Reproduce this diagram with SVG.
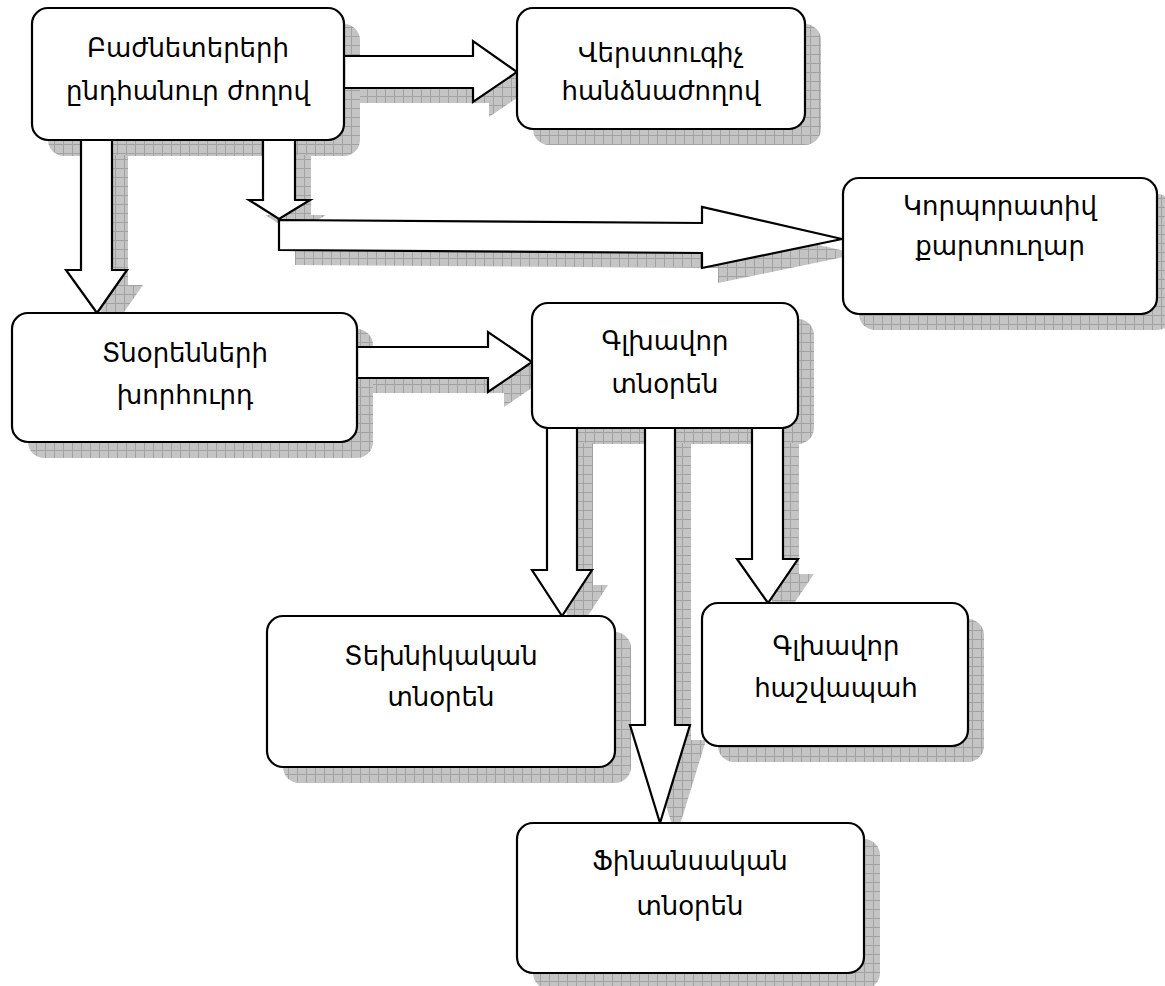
<svg xmlns="http://www.w3.org/2000/svg" width="1165" height="986" viewBox="0 0 1165 986">
<defs>
<pattern id="grid" width="9" height="9" patternUnits="userSpaceOnUse">
<rect width="9" height="9" fill="#c4c4c4"/>
<path d="M0 0.5H9M0.5 0V9" stroke="#a2a2a2" stroke-width="1" fill="none"/>
</pattern>
</defs>
<style>
.sh{fill:url(#grid);stroke:none}
.box{fill:#fff;stroke:#000;stroke-width:2.2}
.arr{fill:#fff;stroke:#000;stroke-width:2.2;stroke-linejoin:miter}
.t{font-family:"DejaVu Sans","Noto Sans",sans-serif;font-size:26px;fill:#000;text-anchor:middle}
</style>
<g id="shadows">
<rect class="sh" x="48" y="24" width="312" height="132" rx="16"/>
<rect class="sh" x="533" y="24" width="288" height="121" rx="16"/>
<rect class="sh" x="859" y="194" width="314" height="136" rx="16"/>
<rect class="sh" x="28" y="329" width="345" height="129" rx="16"/>
<rect class="sh" x="548" y="319" width="266" height="125" rx="16"/>
<rect class="sh" x="283" y="632" width="348" height="151" rx="16"/>
<rect class="sh" x="718" y="619" width="266" height="143" rx="16"/>
<rect class="sh" x="533" y="839" width="347" height="150" rx="16"/>
<g transform="translate(16,15)">
<polygon class="sh" points="344,56 473,56 473,41 517,72 473,102 473,88 344,88"/>
<polygon class="sh" points="81,140 112,140 112,270 127,270 97,313 66,270 81,270"/>
<polygon class="sh" points="263,140 295,140 295,200 310,200 279,219 249,200 263,200"/>
<polygon class="sh" points="279,220 702,223 702,207 842,239 702,268 702,253 279,250"/>
<polygon class="sh" points="357,347 488,347 488,332 532,362 488,392 488,378 357,378"/>
<polygon class="sh" points="547,428 577,428 577,570 592,570 562,616 532,570 547,570"/>
<polygon class="sh" points="645,428 675,428 675,725 690,725 660,823 630,725 645,725"/>
<polygon class="sh" points="752,428 783,428 783,559 798,559 768,603 737,559 752,559"/>
</g>
</g>
<g id="connectors">
<polygon class="arr" points="344,56 473,56 473,41 517,72 473,102 473,88 344,88"/>
<polygon class="arr" points="81,140 112,140 112,270 127,270 97,313 66,270 81,270"/>
<polygon class="arr" points="263,140 295,140 295,200 310,200 279,219 249,200 263,200"/>
<polygon class="arr" points="279,220 702,223 702,207 842,239 702,268 702,253 279,250"/>
<polygon class="arr" points="357,347 488,347 488,332 532,362 488,392 488,378 357,378"/>
<polygon class="arr" points="547,428 577,428 577,570 592,570 562,616 532,570 547,570"/>
<polygon class="arr" points="645,428 675,428 675,725 690,725 660,823 630,725 645,725"/>
<polygon class="arr" points="752,428 783,428 783,559 798,559 768,603 737,559 752,559"/>
</g>
<g id="n1">
<rect class="box" x="32" y="8" width="312" height="132" rx="16"/>
<text class="t" x="188" y="57">Բաժնետերերի</text>
<text class="t" x="188" y="100">ընդհանուր ժողով</text>
</g>
<g id="n2">
<rect class="box" x="517" y="8" width="288" height="121" rx="16"/>
<text class="t" x="661" y="62">Վերստուգիչ</text>
<text class="t" x="661" y="100">հանձնաժողով</text>
</g>
<g id="n3">
<rect class="box" x="843" y="178" width="314" height="136" rx="16"/>
<text class="t" x="1000" y="215">Կորպորատիվ</text>
<text class="t" x="1000" y="255">քարտուղար</text>
</g>
<g id="n4">
<rect class="box" x="12" y="313" width="345" height="129" rx="16"/>
<text class="t" x="185" y="362">Տնօրենների</text>
<text class="t" x="185" y="404">խորհուրդ</text>
</g>
<g id="n5">
<rect class="box" x="532" y="303" width="266" height="125" rx="16"/>
<text class="t" x="665" y="350">Գլխավոր</text>
<text class="t" x="665" y="393">տնօրեն</text>
</g>
<g id="n6">
<rect class="box" x="267" y="616" width="348" height="151" rx="16"/>
<text class="t" x="441" y="665">Տեխնիկական</text>
<text class="t" x="441" y="706">տնօրեն</text>
</g>
<g id="n7">
<rect class="box" x="702" y="603" width="266" height="143" rx="16"/>
<text class="t" x="836" y="655">Գլխավոր</text>
<text class="t" x="836" y="697">հաշվապահ</text>
</g>
<g id="n8">
<rect class="box" x="517" y="823" width="347" height="150" rx="16"/>
<text class="t" x="690" y="870">Ֆինանսական</text>
<text class="t" x="690" y="915">տնօրեն</text>
</g>
</svg>
